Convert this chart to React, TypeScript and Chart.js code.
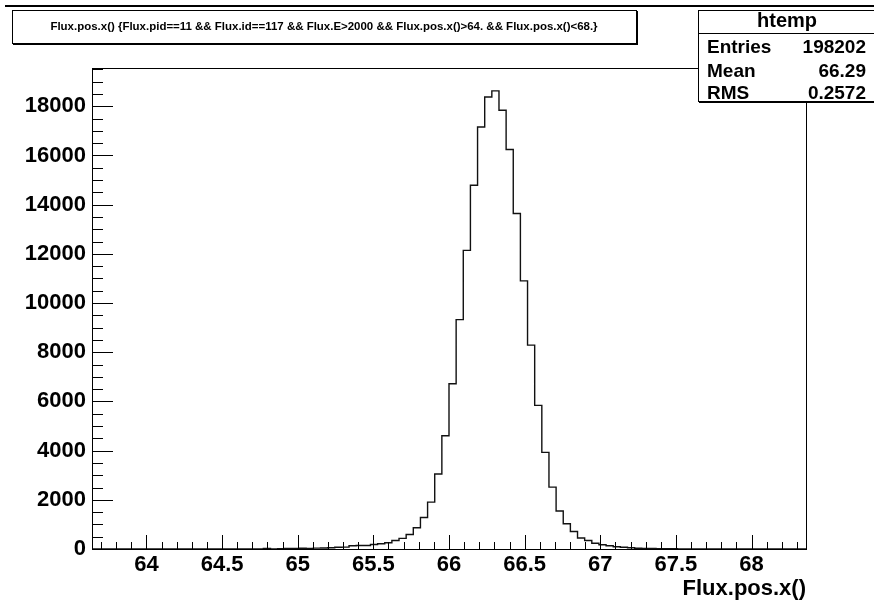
import React, { useEffect, useRef } from 'react';
import { Chart, registerables } from 'chart.js';

Chart.register(...registerables);

// ---- data ----
const X_MIN = 63.64;
const X_MAX = 68.36;
const N_BINS = 100;
const BIN_VALUES: number[] = [
  0, 0, 0, 0, 0, 0, 0, 0, 0, 0,
  0, 0, 0, 0, 0, 0, 0, 0, 0, 0,
  0, 0, 0, 0, 20, 0, 10, 25, 20, 30,
  25, 35, 40, 50, 70, 75, 130, 140, 145, 183,
  211, 252, 346, 430, 590, 862, 1280, 1904, 3050, 4605,
  6720, 9325, 12140, 14790, 17160, 18380, 18625, 17840, 16240, 13640,
  10900, 8290, 5838, 3930, 2515, 1545, 1025, 710, 445, 346,
  236, 170, 130, 90, 73, 49, 32, 25, 20, 15,
  12, 8, 0, 0, 0, 0, 0, 0, 0, 0,
  0, 0, 0, 0, 0, 0, 0, 0, 0, 0,
];
const X_TICKS = [64, 64.5, 65, 65.5, 66, 66.5, 67, 67.5, 68];
const X_TICK_LABELS = ['64', '64.5', '65', '65.5', '66', '66.5', '67', '67.5', '68'];
const Y_TICKS = [0, 2000, 4000, 6000, 8000, 10000, 12000, 14000, 16000, 18000];
const Y_TICK_LABELS = ['0', '2000', '4000', '6000', '8000', '10000', '12000', '14000', '16000', '18000'];
const X_MINOR_STEP = 0.1;
const Y_MINOR_STEP = 500;
const TITLE = 'Flux.pos.x() {Flux.pid==11 && Flux.id==117 && Flux.E>2000 && Flux.pos.x()>64. && Flux.pos.x()<68.}';
const X_TITLE = 'Flux.pos.x()';
const STATS_NAME = 'htemp';
const STATS_LABELS = ['Entries', 'Mean', 'RMS'];
const STATS_VALUES = ['198202', '66.29', '0.2572'];

const FONT = '"Liberation Sans", Arial, Helvetica, sans-serif';
const Y_MAX = Math.max(...BIN_VALUES) * 1.05;

const rootPlugin = {
  id: 'rootDecor',
  afterDraw(chart: any) {
    const ctx: CanvasRenderingContext2D = chart.ctx;
    const { left, right, top, bottom } = chart.chartArea;
    const xs = chart.scales.x;
    const ys = chart.scales.y;
    ctx.save();
    ctx.strokeStyle = '#000';
    ctx.fillStyle = '#000';
    ctx.lineWidth = 1;

    // frame
    ctx.strokeRect(Math.round(left) + 0.5, Math.round(top) + 0.5, Math.round(right - left), Math.round(bottom - top));

    // x ticks (inward)
    const xMajLen = 14, xMinLen = 7;
    ctx.beginPath();
    const nMinX0 = Math.ceil(X_MIN / X_MINOR_STEP);
    const nMinX1 = Math.floor(X_MAX / X_MINOR_STEP);
    for (let k = nMinX0; k <= nMinX1; k++) {
      const v = k * X_MINOR_STEP;
      const isMaj = X_TICKS.some((t) => Math.abs(t - v) < 1e-6);
      const px = Math.round(xs.getPixelForValue(v)) + 0.5;
      ctx.moveTo(px, Math.round(bottom));
      ctx.lineTo(px, Math.round(bottom) - (isMaj ? xMajLen : xMinLen));
    }
    // y ticks (inward)
    const yMajLen = 21, yMinLen = 11;
    const nMinY1 = Math.floor(Y_MAX / Y_MINOR_STEP);
    for (let k = 0; k <= nMinY1; k++) {
      const v = k * Y_MINOR_STEP;
      const isMaj = Y_TICKS.includes(v);
      const py = Math.round(ys.getPixelForValue(v)) + 0.5;
      ctx.moveTo(Math.round(left), py);
      ctx.lineTo(Math.round(left) + (isMaj ? yMajLen : yMinLen), py);
    }
    ctx.stroke();

    // top border line
    ctx.fillRect(5, 5, 869, 2);

    // title box
    const tbL = 12, tbT = 10, tbW = 624, tbH = 33;
    ctx.fillStyle = '#fff';
    ctx.fillRect(tbL, tbT, tbW, tbH);
    ctx.fillStyle = '#000';
    ctx.strokeRect(tbL + 0.5, tbT + 0.5, tbW, tbH);
    ctx.fillRect(tbL + tbW, tbT + 1, 2, tbH + 1);
    ctx.fillRect(tbL + 1, tbT + tbH, tbW + 1, 2);
    let fs = 10;
    ctx.font = `bold ${fs}px ${FONT}`;
    const w = ctx.measureText(TITLE).width;
    fs = fs * 548 / w;
    ctx.font = `bold ${fs}px ${FONT}`;
    ctx.textAlign = 'center';
    ctx.textBaseline = 'middle';
    ctx.fillText(TITLE, tbL + tbW / 2, tbT + tbH / 2 + 0.5);

    // stats box
    const sbL = 698, sbT = 10, sbR = 876, sbB = 101;
    ctx.fillStyle = '#fff';
    ctx.fillRect(sbL, sbT, sbR - sbL, sbB - sbT);
    ctx.fillStyle = '#000';
    ctx.strokeRect(sbL + 0.5, sbT + 0.5, sbR - sbL, sbB - sbT);
    ctx.fillRect(sbL + 1, sbB, sbR - sbL, 2);
    ctx.beginPath();
    ctx.moveTo(sbL, 33.5);
    ctx.lineTo(sbR, 33.5);
    ctx.stroke();
    ctx.font = `bold 20px ${FONT}`;
    ctx.textAlign = 'center';
    ctx.fillText(STATS_NAME, (sbL + sbR) / 2, 21);
    ctx.font = `bold 19px ${FONT}`;
    const rowY = [47.5, 71.5, 93.5];
    STATS_LABELS.forEach((lab, i) => {
      ctx.textAlign = 'left';
      ctx.fillText(lab, 707, rowY[i]);
      ctx.textAlign = 'right';
      ctx.fillText(STATS_VALUES[i], 866, rowY[i]);
    });
    ctx.restore();
  },
};

export default function App() {
  const ref = useRef<HTMLCanvasElement | null>(null);
  useEffect(() => {
    if (!ref.current) return;
    const binW = (X_MAX - X_MIN) / N_BINS;
    const pts = BIN_VALUES.map((v, i) => ({ x: X_MIN + i * binW, y: v }));
    pts.push({ x: X_MAX, y: BIN_VALUES[N_BINS - 1] });
    const tickFont = { family: FONT, weight: 'bold' as const, size: 22 };
    const chart = new Chart(ref.current, {
      type: 'line',
      data: {
        datasets: [
          {
            data: pts,
            stepped: 'before',
            borderColor: '#111',
            borderWidth: 1.4,
            pointRadius: 0,
            fill: false,
            tension: 0,
          },
        ],
      },
      options: {
        animation: false,
        responsive: false,
        devicePixelRatio: 1,
        layout: { padding: { left: 0, right: 68, top: 68, bottom: 0 } },
        plugins: {
          legend: { display: false },
          tooltip: { enabled: false },
          title: { display: false },
        },
        scales: {
          x: {
            type: 'linear',
            min: X_MIN,
            max: X_MAX,
            grid: { display: false, drawTicks: false },
            border: { display: false },
            afterBuildTicks: (s: any) => {
              s.ticks = X_TICKS.map((v) => ({ value: v }));
            },
            afterFit: (s: any) => {
              s.height = 57;
            },
            ticks: {
              autoSkip: false,
              maxRotation: 0,
              padding: 3,
              color: '#000',
              font: tickFont,
              callback: (v: any) => X_TICK_LABELS[X_TICKS.findIndex((t) => Math.abs(t - v) < 1e-6)] ?? '',
            },
            title: {
              display: true,
              text: X_TITLE,
              align: 'end',
              color: '#000',
              font: tickFont,
              padding: { top: 0, bottom: 4 },
            },
          },
          y: {
            type: 'linear',
            min: 0,
            max: Y_MAX,
            grid: { display: false, drawTicks: false },
            border: { display: false },
            afterBuildTicks: (s: any) => {
              s.ticks = Y_TICKS.map((v) => ({ value: v }));
            },
            afterFit: (s: any) => {
              s.width = 92;
            },
            ticks: {
              autoSkip: false,
              padding: 6,
              color: '#000',
              font: tickFont,
              callback: (v: any) => Y_TICK_LABELS[Y_TICKS.indexOf(v)] ?? '',
            },
          },
        },
      },
      plugins: [rootPlugin],
    } as any);
    return () => chart.destroy();
  }, []);
  return (
    <div style={{ position: 'fixed', left: 0, top: 0, width: 874, height: 606, background: '#fff' }}>
      <canvas ref={ref} width={874} height={606} style={{ width: 874, height: 606, display: 'block' }} />
    </div>
  );
}
